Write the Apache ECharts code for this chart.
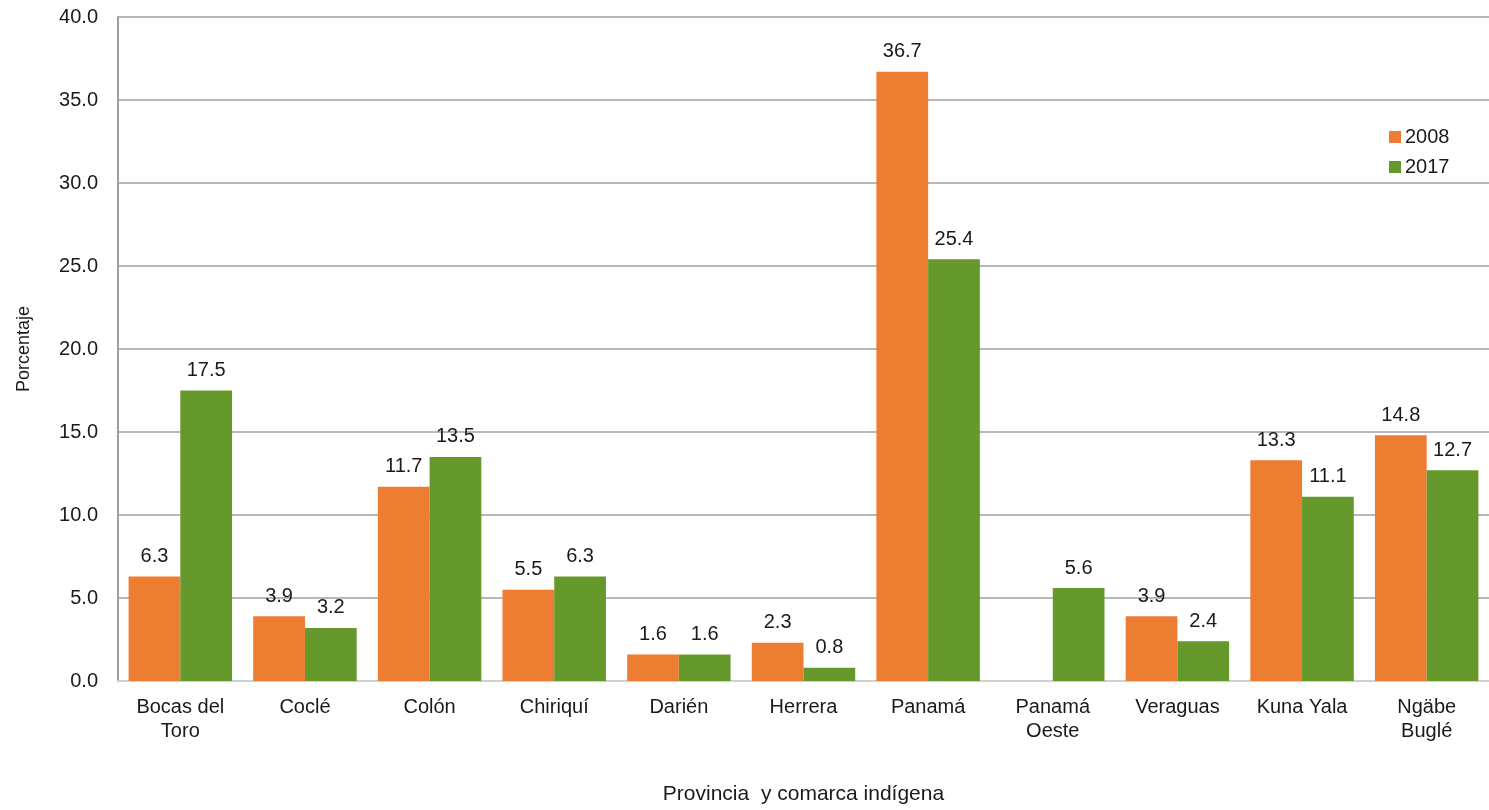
<!DOCTYPE html>
<html><head><meta charset="utf-8">
<script src="https://cdn.jsdelivr.net/npm/echarts@6/dist/echarts.min.js"></script>
<style>html,body{margin:0;padding:0;background:#fff}#c{width:1489px;height:810px}</style>
</head><body><div id="c"></div>
<script>
const categories = ['Bocas del\nToro','Coclé','Colón','Chiriquí','Darién','Herrera','Panamá','Panamá\nOeste','Veraguas','Kuna Yala','Ngäbe\nBuglé'];
const values2008 = [6.3,3.9,11.7,5.5,1.6,2.3,36.7,null,3.9,13.3,14.8];
const values2017 = [17.5,3.2,13.5,6.3,1.6,0.8,25.4,5.6,2.4,11.1,12.7];
const yTicks = [0,5,10,15,20,25,30,35,40];

const chart = echarts.init(document.getElementById('c'));
const font = 'Liberation Sans, Arial, sans-serif';
const lbl = {show:true, position:'top', distance:10, color:'#1a1a1a', fontSize:20, fontFamily:font,
  formatter: p => p.value == null ? '' : p.value.toFixed(1)};
chart.setOption({
  animation:false,
  grid:{left:118, top:17, width:1375, height:664, containLabel:false},
  legend:{orient:'vertical', left:1384, top:122, itemWidth:12, itemHeight:12, itemGap:10,
    icon:'rect', textStyle:{fontSize:20, fontFamily:font, color:'#1a1a1a', padding:[0,0,0,-1]}},
  xAxis:{type:'category', data:categories,
    name:'Provincia  y comarca indígena', nameLocation:'middle', nameGap:103,
    nameTextStyle:{fontSize:21, fontFamily:font, color:'#1a1a1a'},
    axisTick:{show:false},
    axisLine:{lineStyle:{color:'#d0d0d0', width:2}},
    axisLabel:{fontSize:20, fontFamily:font, color:'#1a1a1a', margin:14, lineHeight:24, interval:0}},
  yAxis:{type:'value', min:0, max:40, interval:5,
    name:'Porcentaje', nameLocation:'middle', nameGap:85, nameRotate:90,
    nameTextStyle:{fontSize:18, fontFamily:font, color:'#1a1a1a'},
    axisLine:{show:true, lineStyle:{color:'#a0a0a0', width:2}},
    axisTick:{show:false},
    splitLine:{lineStyle:{color:'#a0a0a0', width:1.5}},
    axisLabel:{fontSize:20, fontFamily:font, color:'#1a1a1a', margin:20,
      formatter: v => yTicks.includes(v) ? v.toFixed(1) : ''}},
  series:[
    {name:'2008', type:'bar', data:values2008, barGap:'0%', barCategoryGap:'17%',
      itemStyle:{color:'#ED7D31'}, label:lbl},
    {name:'2017', type:'bar', data:values2017, barGap:'0%', barCategoryGap:'17%',
      itemStyle:{color:'#66992B'}, label:lbl}
  ]
});
</script></body></html>
